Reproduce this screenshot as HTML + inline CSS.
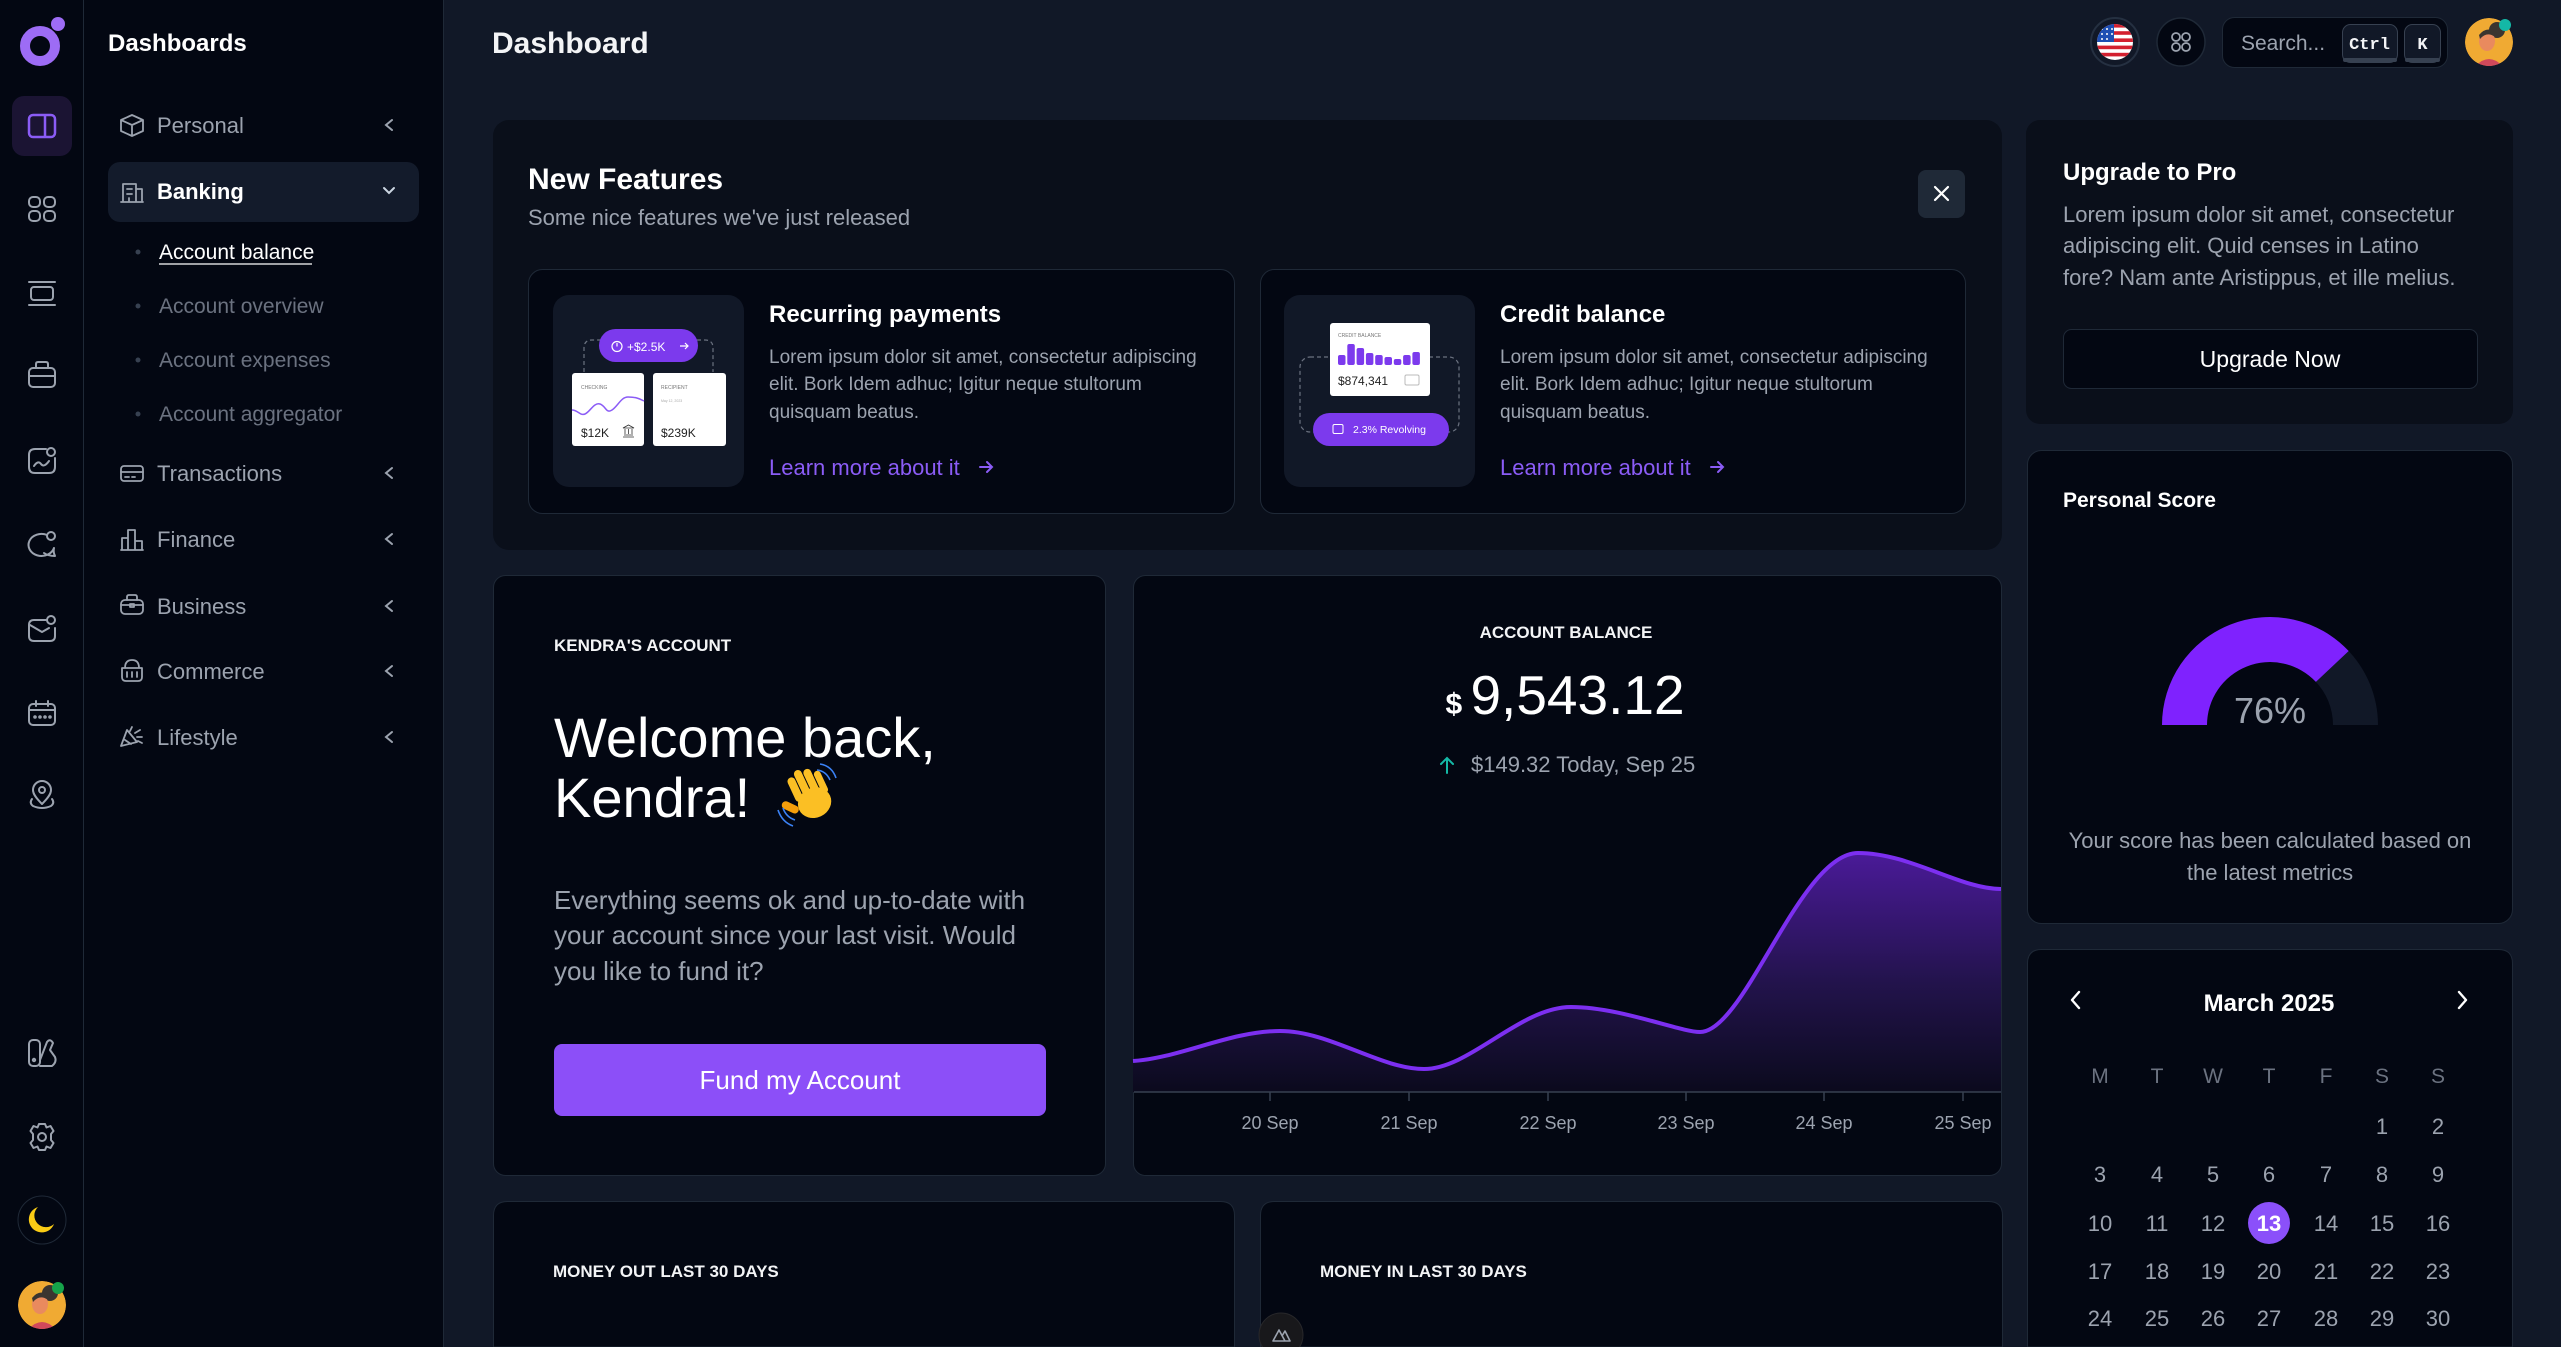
<!DOCTYPE html>
<html><head><meta charset="utf-8">
<style>
*{box-sizing:border-box;margin:0;padding:0}
html,body{width:2561px;height:1347px;overflow:hidden;background:#111827}
svg{display:block;position:absolute;left:0;top:0;overflow:hidden}
text{font-family:"Liberation Sans",Arial,sans-serif}
.g{fill:#9ca3af}
.ic{fill:none;stroke:#9ca3af;stroke-width:2;stroke-linecap:round;stroke-linejoin:round}
.ni{fill:none;stroke:#9ca3af;stroke-width:1.8;stroke-linecap:round;stroke-linejoin:round}
</style></head><body>
<svg width="2561" height="1347" viewBox="0 0 2561 1347" xmlns="http://www.w3.org/2000/svg">
<defs>
<linearGradient id="af" x1="0" y1="853" x2="0" y2="1092" gradientUnits="userSpaceOnUse">
<stop offset="0" stop-color="#4a1a98"/><stop offset="0.55" stop-color="#22134b"/><stop offset="1" stop-color="#0b0a1d"/>
</linearGradient>
<clipPath id="flag"><circle cx="2115" cy="42" r="18"/></clipPath>
<clipPath id="av1"><circle cx="2489" cy="42" r="24"/></clipPath>
<clipPath id="av2"><circle cx="42" cy="1305" r="24"/></clipPath>
</defs>

<rect x="0" y="0" width="2561" height="1347" fill="#111827"/>

<rect x="0" y="0" width="83" height="1347" fill="#030712"/>
<line x1="83.5" y1="0" x2="83.5" y2="1347" stroke="#1f2937" stroke-width="1"/>
<rect x="84" y="0" width="359" height="1347" fill="#030712"/>
<line x1="443.5" y1="0" x2="443.5" y2="1347" stroke="#1f2937" stroke-width="1"/>

<circle cx="40" cy="46" r="15" fill="none" stroke="#9d6cf5" stroke-width="10"/>
<circle cx="58" cy="24" r="7" fill="#9d6cf5"/>

<rect x="12" y="96" width="60" height="60" rx="12" fill="#1b1433"/>
<rect x="29" y="115" width="26" height="22" rx="4" fill="none" stroke="#8b5cf6" stroke-width="2.5"/>
<line x1="45" y1="115" x2="45" y2="137" stroke="#8b5cf6" stroke-width="2.5"/>

<g class="ic">
<rect x="29" y="197" width="11" height="10" rx="4"/><rect x="44" y="197" width="11" height="10" rx="4"/>
<rect x="29" y="211" width="11" height="10" rx="4"/><rect x="44" y="211" width="11" height="10" rx="4"/>

<line x1="29" y1="282" x2="55" y2="282"/><line x1="29" y1="305" x2="55" y2="305"/>
<rect x="31" y="287" width="22" height="13" rx="3"/>

<rect x="29" y="368" width="26" height="19" rx="4"/>
<path d="M36,368 V364 Q36,362 38,362 H46 Q48,362 48,364 V368"/>
<line x1="29" y1="376" x2="55" y2="376"/>

<path d="M46,449 H35 Q29,449 29,455 V467 Q29,473 35,473 H49 Q55,473 55,467 V458"/>
<circle cx="51" cy="452" r="4"/>
<path d="M34,466 q4,-6 7,-2 t8,-3"/>

<path d="M47,535 A13,11 0 1 0 54,548 Q53,552 55,556 Q48,556 44,553"/>
<circle cx="51" cy="536" r="4"/>

<path d="M46,620 H34 Q29,620 29,625 V636 Q29,641 34,641 H50 Q55,641 55,636 V628"/>
<path d="M30,625 L42,632 L49,628"/>
<circle cx="51" cy="620" r="4"/>

<rect x="29" y="704" width="26" height="21" rx="4"/>
<line x1="29" y1="710" x2="55" y2="710"/>
<line x1="36" y1="701" x2="36" y2="706"/><line x1="48" y1="701" x2="48" y2="706"/>
<circle cx="35" cy="717" r="0.8"/><circle cx="40" cy="717" r="0.8"/><circle cx="45" cy="717" r="0.8"/><circle cx="50" cy="717" r="0.8"/>

<path d="M42,804 C36,798 33,794 33,790 A9,9 0 0 1 51,790 C51,794 48,798 42,804 Z"/>
<circle cx="42" cy="790" r="3"/>
<path d="M32,799 Q29,803 33,806 Q42,810 51,806 Q55,803 52,799"/>

<rect x="29" y="1040" width="11" height="26" rx="4"/>
<path d="M40,1060 L47,1042 Q50,1038 53,1043 L50,1050 L55,1057 Q57,1062 52,1066 H40"/>
<circle cx="34" cy="1060" r="1.2"/>

<circle cx="42" cy="1137" r="4"/>
<path d="M39,1124 H45 L46.5,1127.5 L50.5,1126 L53.5,1131 L51,1134 V1140 L53.5,1143 L50.5,1148 L46.5,1146.5 L45,1150 H39 L37.5,1146.5 L33.5,1148 L30.5,1143 L33,1140 V1134 L30.5,1131 L33.5,1126 L37.5,1127.5 Z"/>
</g>

<circle cx="42" cy="1220" r="24" fill="none" stroke="#1f2937" stroke-width="1"/>
<path d="M38,1207 A13,13 0 1 0 54,1224 A10,10 0 0 1 38,1207 Z" fill="#facc15"/>

<g clip-path="url(#av2)">
<circle cx="42" cy="1305" r="24" fill="#f0aa33"/>
<circle cx="50" cy="1293" r="8" fill="#3a3530"/>
<ellipse cx="40" cy="1304" rx="8" ry="10" fill="#e98a5e"/>
<path d="M26,1332 Q42,1312 58,1332 Z" fill="#d1495b"/>
<path d="M32,1298 Q40,1288 50,1296 L48,1300 Q40,1294 33,1302 Z" fill="#3a3530"/>
</g>
<circle cx="58" cy="1288" r="6" fill="#16a34a"/>

<text x="108" y="51" font-size="24" font-weight="bold" fill="#fff">Dashboards</text>

<rect x="108" y="162" width="311" height="60" rx="12" fill="#131b2b"/>

<g class="ni">
<path d="M132,115 L143,120 V131 L132,136 L121,131 V120 Z M121,120 L132,125 L143,120 M132,125 V136"/>
<path d="M121,202 H143 M123,202 V184 H136 V202 M136,189 H142 V202 M127,189 H132 M127,194 H132 M129,198 V202"/>
<rect x="121" y="466" width="22" height="15" rx="3"/><line x1="121" y1="472" x2="143" y2="472"/><line x1="125" y1="477" x2="129" y2="477"/><line x1="132" y1="477" x2="135" y2="477"/>
<path d="M121,550 H143 M122,550 V538 H128 V550 M128,550 V530 H135 V550 M135,550 V541 H142 V550"/>
<rect x="121" y="600" width="22" height="14" rx="4"/><path d="M127,600 V597 Q127,595 129,595 H135 Q137,595 137,597 V600 M121,605 H143"/><rect x="130" y="604" width="4" height="3"/>
<path d="M122,668 H142 V677 Q142,681 138,681 H126 Q122,681 122,677 Z M125,668 Q125,660 132,660 Q139,660 139,668 M127,672 V677 M132,672 V677 M137,672 V677"/>
<path d="M121,746 L127,730 L137,742 Z M125,740 L131,744 M130,731 L132,727 M135,733 L140,730 M137,737 L142,737 M138,741 L142,743"/>
</g>

<g font-size="22" class="g">
<text x="157" y="133">Personal</text>
<text x="157" y="481">Transactions</text>
<text x="157" y="547">Finance</text>
<text x="157" y="614">Business</text>
<text x="157" y="679">Commerce</text>
<text x="157" y="745">Lifestyle</text>
</g>
<text x="157" y="199" font-size="22" font-weight="bold" fill="#fff">Banking</text>

<g fill="none" stroke="#9ca3af" stroke-width="2" stroke-linecap="round">
<path d="M392,120 L386,125 L392,130"/>
<path d="M392,468 L386,473 L392,478"/>
<path d="M392,534 L386,539 L392,544"/>
<path d="M392,601 L386,606 L392,611"/>
<path d="M392,666 L386,671 L392,676"/>
<path d="M392,732 L386,737 L392,742"/>
<path d="M384,188 L389,193 L394,188" stroke="#cbd5e1"/>
</g>

<g fill="#374151"><circle cx="138" cy="252" r="2.5"/><circle cx="138" cy="306" r="2.5"/><circle cx="138" cy="360" r="2.5"/><circle cx="138" cy="414" r="2.5"/></g>
<text x="159" y="259" font-size="21" fill="#fff">Account balance</text>
<line x1="159" y1="264" x2="312" y2="264" stroke="#fff" stroke-width="1.2"/>
<g font-size="21" fill="#6b7280">
<text x="159" y="313">Account overview</text>
<text x="159" y="367">Account expenses</text>
<text x="159" y="421">Account aggregator</text>
</g>

<text x="492" y="53" font-size="30" font-weight="bold" fill="#f3f4f6">Dashboard</text>

<circle cx="2115" cy="42" r="24" fill="#111827" stroke="#253041" stroke-width="2"/>
<g clip-path="url(#flag)">
<rect x="2097" y="24" width="36" height="36" fill="#fff"/>
<rect x="2097" y="24" width="36" height="3.6" fill="#d3202f"/>
<rect x="2097" y="31.2" width="36" height="3.6" fill="#d3202f"/>
<rect x="2097" y="38.4" width="36" height="3.6" fill="#d3202f"/>
<rect x="2097" y="45.6" width="36" height="3.6" fill="#d3202f"/>
<rect x="2097" y="52.8" width="36" height="3.6" fill="#d3202f"/>
<rect x="2097" y="24" width="17" height="18" fill="#1d4fb3"/>
<g fill="#fff"><circle cx="2102" cy="29" r="1"/><circle cx="2107" cy="29" r="1"/><circle cx="2112" cy="29" r="1"/><circle cx="2102" cy="34" r="1"/><circle cx="2107" cy="34" r="1"/><circle cx="2112" cy="34" r="1"/><circle cx="2102" cy="39" r="1"/><circle cx="2107" cy="39" r="1"/></g>
</g>

<circle cx="2181" cy="42" r="24" fill="#030712" stroke="#1f2937" stroke-width="1.5"/>
<g fill="none" stroke="#9ca3af" stroke-width="1.8">
<circle cx="2176" cy="37" r="4"/><circle cx="2186" cy="37" r="4"/><circle cx="2176" cy="47" r="4"/><circle cx="2186" cy="47" r="4"/>
</g>

<rect x="2222.5" y="17.5" width="225" height="50" rx="12" fill="#030712" stroke="#1f2937"/>
<text x="2241" y="50" font-size="21" fill="#9ca3af">Search...</text>
<rect x="2342.5" y="24.5" width="55" height="38" rx="8" fill="#111827" stroke="#374151"/>
<rect x="2343" y="58" width="54" height="4" rx="2" fill="#374151"/>
<text x="2369.5" y="49" font-size="17" font-weight="bold" fill="#f3f4f6" text-anchor="middle" style="font-family:'Liberation Mono',monospace">Ctrl</text>
<rect x="2404.5" y="24.5" width="36" height="38" rx="8" fill="#111827" stroke="#374151"/>
<rect x="2405" y="58" width="35" height="4" rx="2" fill="#374151"/>
<text x="2422.5" y="49" font-size="17" font-weight="bold" fill="#f3f4f6" text-anchor="middle" style="font-family:'Liberation Mono',monospace">K</text>

<g clip-path="url(#av1)">
<circle cx="2489" cy="42" r="24" fill="#f0aa33"/>
<circle cx="2497" cy="30" r="8" fill="#3a3530"/>
<ellipse cx="2487" cy="41" rx="8" ry="10" fill="#e98a5e"/>
<path d="M2473,69 Q2489,49 2505,69 Z" fill="#d1495b"/>
<path d="M2479,35 Q2487,25 2497,33 L2495,37 Q2487,31 2480,39 Z" fill="#3a3530"/>
</g>
<circle cx="2505" cy="25" r="6" fill="#14b8a6"/>

<rect x="493" y="120" width="1509" height="430" rx="16" fill="#0a0f1a"/>
<text x="528" y="189" font-size="30" font-weight="bold" fill="#fff">New Features</text>
<text x="528" y="225" font-size="22" fill="#9ca3af">Some nice features we've just released</text>
<rect x="1918" y="170" width="47" height="48" rx="8" fill="#1f2937"/>
<path d="M1935,187 L1948,200 M1948,187 L1935,200" stroke="#fff" stroke-width="2.2" stroke-linecap="round"/>

<rect x="528.5" y="269.5" width="706" height="244" rx="14" fill="#030712" stroke="#1f2937"/>
<rect x="1260.5" y="269.5" width="705" height="244" rx="14" fill="#030712" stroke="#1f2937"/>

<rect x="553" y="295" width="191" height="192" rx="16" fill="#111827"/>
<path d="M584,372 V348 Q584,340 592,340 H600 M697,340 H705 Q713,340 713,348 V372" fill="none" stroke="#6b7280" stroke-width="1.2" stroke-dasharray="4 3"/>
<rect x="599" y="329" width="99" height="33" rx="16.5" fill="#7c3aed"/>
<circle cx="617" cy="346.5" r="5" fill="none" stroke="#fff" stroke-width="1.2"/>
<line x1="617" y1="346.5" x2="617" y2="343" stroke="#fff" stroke-width="1.2"/>
<text x="627" y="351" font-size="12" fill="#fff">+$2.5K</text>
<path d="M680,346 H688 M685,343 L688,346 L685,349" fill="none" stroke="#fff" stroke-width="1.2"/>
<rect x="572" y="373" width="72" height="73" rx="3" fill="#fff"/>
<rect x="653" y="373" width="73" height="73" rx="3" fill="#fff"/>
<text x="581" y="389" font-size="5" fill="#777">CHECKING</text>
<path d="M572,410 C578,410 580,416 585,414 S594,402 600,404 S606,414 612,410 S621,397 628,397 S638,398 644,401" fill="none" stroke="#8b5cf6" stroke-width="1.5"/>
<text x="581" y="437" font-size="12" fill="#222">$12K</text>
<path d="M623,437 H634 M624,435 H633 M625,434 V429 M628.5,434 V429 M632,434 V429 M623,428 L628.5,425 L634,428 Z" fill="none" stroke="#333" stroke-width="0.8"/>
<text x="661" y="389" font-size="5" fill="#777">RECIPIENT</text>
<text x="661" y="402" font-size="3.5" fill="#aaa">May 12, 2023</text>
<text x="661" y="437" font-size="12" fill="#222">$239K</text>

<text x="769" y="322" font-size="24" font-weight="bold" fill="#fff">Recurring payments</text>
<g font-size="19" fill="#9ca3af">
<text x="769" y="363">Lorem ipsum dolor sit amet, consectetur adipiscing</text>
<text x="769" y="390">elit. Bork Idem adhuc; Igitur neque stultorum</text>
<text x="769" y="418">quisquam beatus.</text>
</g>
<text x="769" y="475" font-size="22" fill="#8b5cf6">Learn more about it</text>
<path d="M980,467 H992 M987,462 L992,467 L987,472" fill="none" stroke="#8b5cf6" stroke-width="2" stroke-linecap="round"/>

<rect x="1284" y="295" width="191" height="192" rx="16" fill="#111827"/>
<rect x="1300" y="357" width="159" height="75" rx="10" fill="none" stroke="#6b7280" stroke-width="1.2" stroke-dasharray="4 3"/>
<rect x="1330" y="323" width="100" height="73" rx="3" fill="#fff"/>
<text x="1338" y="337" font-size="5" fill="#777">CREDIT BALANCE</text>
<g fill="#7c3aed">
<rect x="1338" y="355" width="7.5" height="10" rx="2"/>
<rect x="1347.3" y="344" width="7.5" height="21" rx="2"/>
<rect x="1356.6" y="348" width="7.5" height="17" rx="2"/>
<rect x="1365.9" y="353" width="7.5" height="12" rx="2"/>
<rect x="1375.2" y="355" width="7.5" height="10" rx="2"/>
<rect x="1384.5" y="357" width="7.5" height="8" rx="2"/>
<rect x="1393.8" y="359" width="7.5" height="6" rx="2"/>
<rect x="1403.1" y="355" width="7.5" height="10" rx="2"/>
<rect x="1412.4" y="352" width="7.5" height="13" rx="2"/>
</g>
<text x="1338" y="385" font-size="12" fill="#222">$874,341</text>
<rect x="1405" y="375" width="14" height="10" rx="1.5" fill="none" stroke="#bbb" stroke-width="1"/>
<rect x="1313" y="413" width="136" height="33" rx="16.5" fill="#7c3aed"/>
<rect x="1333" y="424.5" width="10" height="9" rx="1.5" fill="none" stroke="#fff" stroke-width="1"/>
<text x="1353" y="433" font-size="10.5" fill="#fff">2.3% Revolving</text>

<text x="1500" y="322" font-size="24" font-weight="bold" fill="#fff">Credit balance</text>
<g font-size="19" fill="#9ca3af">
<text x="1500" y="363">Lorem ipsum dolor sit amet, consectetur adipiscing</text>
<text x="1500" y="390">elit. Bork Idem adhuc; Igitur neque stultorum</text>
<text x="1500" y="418">quisquam beatus.</text>
</g>
<text x="1500" y="475" font-size="22" fill="#8b5cf6">Learn more about it</text>
<path d="M1711,467 H1723 M1718,462 L1723,467 L1718,472" fill="none" stroke="#8b5cf6" stroke-width="2" stroke-linecap="round"/>

<rect x="493.5" y="575.5" width="612" height="600" rx="12" fill="#030712" stroke="#1f2937"/>
<text x="554" y="651" font-size="17" font-weight="bold" fill="#f3f4f6">KENDRA'S ACCOUNT</text>
<text x="554" y="757" font-size="56" fill="#fff">Welcome back,</text>
<text x="554" y="817" font-size="56" fill="#fff">Kendra!</text>
<g transform="rotate(-25 808 798)">
<rect x="796" y="772" width="8" height="26" rx="4" fill="#fbbf24"/>
<rect x="805" y="768" width="8" height="30" rx="4" fill="#fbbf24"/>
<rect x="814" y="771" width="8" height="28" rx="4" fill="#fbbf24"/>
<rect x="823" y="777" width="7" height="24" rx="3.5" fill="#fbbf24"/>
<ellipse cx="812" cy="805" rx="17" ry="15" fill="#fbbf24"/>
<rect x="784" y="790" width="8" height="18" rx="4" transform="rotate(-40 788 799)" fill="#f59e0b"/>
</g>
<path d="M783,808 Q786,817 795,820 M778,810 Q782,822 793,826" fill="none" stroke="#3b82f6" stroke-width="1.6"/>
<path d="M817,770 Q826,771 830,780 M820,764 Q832,766 836,778" fill="none" stroke="#3b82f6" stroke-width="1.6"/>
<g font-size="26" fill="#9ca3af">
<text x="554" y="909">Everything seems ok and up-to-date with</text>
<text x="554" y="944">your account since your last visit. Would</text>
<text x="554" y="980">you like to fund it?</text>
</g>
<rect x="554" y="1044" width="492" height="72" rx="8" fill="#8c4ff8"/>
<text x="800" y="1089" font-size="26" fill="#fff" text-anchor="middle">Fund my Account</text>

<rect x="1133.5" y="575.5" width="868" height="600" rx="12" fill="#030712" stroke="#1f2937"/>
<text x="1566" y="638" font-size="17" font-weight="bold" fill="#f3f4f6" text-anchor="middle">ACCOUNT BALANCE</text>
<text x="1565" y="714" text-anchor="middle" fill="#fff"><tspan font-size="30" font-weight="bold">$ </tspan><tspan font-size="55">9,543.12</tspan></text>
<path d="M1447,773 V758 M1441,764 L1447,758 L1453,764" fill="none" stroke="#14b8a6" stroke-width="2" stroke-linecap="round"/>
<text x="1471" y="772" font-size="22" fill="#9ca3af">$149.32 Today, Sep 25</text>

<path d="M1133,1061 C1180,1058 1230,1031 1280,1031 C1330,1031 1380,1069 1424,1069 C1470,1069 1520,1007 1571,1007 C1620,1007 1680,1032 1700,1032 C1745,1032 1800,853 1858,853 C1910,853 1960,889 2001,889 L2001,1092 L1133,1092 Z" fill="url(#af)"/>
<path d="M1133,1061 C1180,1058 1230,1031 1280,1031 C1330,1031 1380,1069 1424,1069 C1470,1069 1520,1007 1571,1007 C1620,1007 1680,1032 1700,1032 C1745,1032 1800,853 1858,853 C1910,853 1960,889 2001,889" fill="none" stroke="#7c2ff0" stroke-width="4"/>
<line x1="1134" y1="1092" x2="2001" y2="1092" stroke="#374151" stroke-width="1.5"/>
<g stroke="#374151" stroke-width="1.5">
<line x1="1270" y1="1092" x2="1270" y2="1101"/><line x1="1409" y1="1092" x2="1409" y2="1101"/><line x1="1548" y1="1092" x2="1548" y2="1101"/>
<line x1="1686" y1="1092" x2="1686" y2="1101"/><line x1="1824" y1="1092" x2="1824" y2="1101"/><line x1="1963" y1="1092" x2="1963" y2="1101"/>
</g>
<g font-size="18" fill="#9ca3af" text-anchor="middle">
<text x="1270" y="1129">20 Sep</text><text x="1409" y="1129">21 Sep</text><text x="1548" y="1129">22 Sep</text>
<text x="1686" y="1129">23 Sep</text><text x="1824" y="1129">24 Sep</text><text x="1963" y="1129">25 Sep</text>
</g>

<path d="M493.5,1347 V1215.5 Q493.5,1201.5 507.5,1201.5 H1220.5 Q1234.5,1201.5 1234.5,1215.5 V1347 Z" fill="#030712" stroke="#1f2937"/>
<path d="M1260.5,1347 V1215.5 Q1260.5,1201.5 1274.5,1201.5 H1988.5 Q2002.5,1201.5 2002.5,1215.5 V1347 Z" fill="#030712" stroke="#1f2937"/>
<text x="553" y="1277" font-size="17" font-weight="bold" fill="#f3f4f6">MONEY OUT LAST 30 DAYS</text>
<text x="1320" y="1277" font-size="17" font-weight="bold" fill="#f3f4f6">MONEY IN LAST 30 DAYS</text>
<circle cx="1281" cy="1335" r="22" fill="#18181b" stroke="#27272a"/>
<path d="M1273,1341 L1279,1330 L1285,1341 Z M1282,1336 L1285,1331 L1290,1341 H1285" fill="none" stroke="#9ca3af" stroke-width="1.6" stroke-linejoin="round"/>

<rect x="2026" y="120" width="487" height="304" rx="14" fill="#0a0f1a"/>
<text x="2063" y="180" font-size="24" font-weight="bold" fill="#fff">Upgrade to Pro</text>
<g font-size="22" fill="#9ca3af">
<text x="2063" y="222">Lorem ipsum dolor sit amet, consectetur</text>
<text x="2063" y="253">adipiscing elit. Quid censes in Latino</text>
<text x="2063" y="285">fore? Nam ante Aristippus, et ille melius.</text>
</g>
<rect x="2063.5" y="329.5" width="414" height="59" rx="8" fill="#030712" stroke="#1f2937"/>
<text x="2270" y="367" font-size="23" fill="#fff" text-anchor="middle">Upgrade Now</text>

<rect x="2027.5" y="450.5" width="485" height="473" rx="14" fill="#030712" stroke="#1f2937"/>
<text x="2063" y="507" font-size="21" font-weight="bold" fill="#fff">Personal Score</text>
<path d="M2162,725 A108,108 0 0 1 2378,725 L2333,725 A63,63 0 0 0 2207,725 Z" fill="#111827"/>
<path d="M2162,725 A108,108 0 0 1 2348.7,651.05 L2315.9,681.9 A63,63 0 0 0 2207,725 Z" fill="#7f22fe"/>
<text x="2270" y="723" font-size="36" fill="#9ca3af" text-anchor="middle">76%</text>
<g font-size="22" fill="#9ca3af" text-anchor="middle">
<text x="2270" y="848">Your score has been calculated based on</text>
<text x="2270" y="880">the latest metrics</text>
</g>

<path d="M2027.5,1347 V963.5 Q2027.5,949.5 2041.5,949.5 H2498.5 Q2512.5,949.5 2512.5,963.5 V1347 Z" fill="#030712" stroke="#1f2937"/>
<text x="2269" y="1011" font-size="24" font-weight="bold" fill="#fff" text-anchor="middle">March 2025</text>
<path d="M2079,992 L2072,1000 L2079,1008 M2459,992 L2466,1000 L2459,1008" fill="none" stroke="#fff" stroke-width="2.4" stroke-linecap="round" stroke-linejoin="round"/>
<g font-size="21" fill="#6b7280" text-anchor="middle">
<text x="2100" y="1083">M</text><text x="2157" y="1083">T</text><text x="2213" y="1083">W</text><text x="2269" y="1083">T</text><text x="2326" y="1083">F</text><text x="2382" y="1083">S</text><text x="2438" y="1083">S</text>
</g>
<circle cx="2269" cy="1223" r="21" fill="#8b50fa"/>
<g font-size="22" fill="#9ca3af" text-anchor="middle">
<text x="2382" y="1134">1</text><text x="2438" y="1134">2</text>
<text x="2100" y="1182">3</text><text x="2157" y="1182">4</text><text x="2213" y="1182">5</text><text x="2269" y="1182">6</text><text x="2326" y="1182">7</text><text x="2382" y="1182">8</text><text x="2438" y="1182">9</text>
<text x="2100" y="1231">10</text><text x="2157" y="1231">11</text><text x="2213" y="1231">12</text><text x="2269" y="1231" fill="#fff" font-weight="bold">13</text><text x="2326" y="1231">14</text><text x="2382" y="1231">15</text><text x="2438" y="1231">16</text>
<text x="2100" y="1279">17</text><text x="2157" y="1279">18</text><text x="2213" y="1279">19</text><text x="2269" y="1279">20</text><text x="2326" y="1279">21</text><text x="2382" y="1279">22</text><text x="2438" y="1279">23</text>
<text x="2100" y="1326">24</text><text x="2157" y="1326">25</text><text x="2213" y="1326">26</text><text x="2269" y="1326">27</text><text x="2326" y="1326">28</text><text x="2382" y="1326">29</text><text x="2438" y="1326">30</text>
</g>
</svg>
</body></html>
